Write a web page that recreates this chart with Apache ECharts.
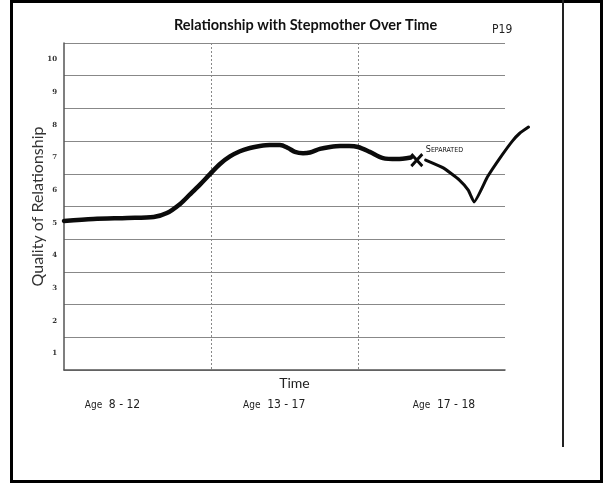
<!DOCTYPE html>
<html>
<head>
<meta charset="utf-8">
<script src="https://cdn.jsdelivr.net/npm/echarts@6/dist/echarts.min.js"></script>
<style>
  html, body { margin: 0; padding: 0; background: #fff; }
  #chart { width: 605px; height: 483px; }
</style>
</head>
<body>
<div id="chart"></div>
<script>
// quality score, one label per band
const qualityLabels = ['1', '2', '3', '4', '5', '6', '7', '8', '9', '10'];

// time periods along the x axis (x runs 0..3, one unit per period)
const periodNames = ['8 - 12', '13 - 17', '17 - 18'];
const periodLabelAt = [0.33, 1.43, 2.585];

// hand drawn curve, [time, quality]
const beforeSeparation = [
  [0.00, 5.06], [0.20, 5.12], [0.43, 5.15], [0.61, 5.18], [0.70, 5.30],
  [0.79, 5.58], [0.857, 5.87], [0.925, 6.17], [0.993, 6.49], [1.061, 6.80],
  [1.129, 7.03], [1.197, 7.19], [1.265, 7.29], [1.333, 7.35], [1.40, 7.38],
  [1.469, 7.38], [1.524, 7.29], [1.571, 7.17], [1.626, 7.13], [1.673, 7.15],
  [1.741, 7.26], [1.81, 7.32], [1.878, 7.35], [1.94, 7.35], [2.00, 7.32],
  [2.08, 7.17], [2.17, 6.98], [2.265, 6.95], [2.36, 7.00]
];
const separationPoint = [[2.40, 6.92]];
const afterSeparation = [
  [2.46, 6.92], [2.58, 6.68], [2.69, 6.31], [2.75, 6.00], [2.79, 5.64],
  [2.88, 6.40], [2.97, 7.01], [3.05, 7.50], [3.10, 7.74], [3.16, 7.93]
];

const chart = echarts.init(document.getElementById('chart'));

// grid 0 carries the visible axes, grid 1 (same scale, wider) carries the
// drawing so the curve can run past the right end of the ruled lines
const xMaxDrawn = 3.25;
const plotLeft = 64, plotRight = 100;
const plotWidth = 605 - plotLeft - plotRight;
const drawnRight = 605 - plotLeft - plotWidth * xMaxDrawn / 3;

chart.setOption({
  backgroundColor: '#fff',
  animation: false,
  title: [
    {
      text: 'Relationship with Stepmother Over Time',
      left: 169,
      top: 13,
      textStyle: { fontFamily: 'Lato', fontWeight: 'bold', fontSize: 14.5, color: '#111' }
    },
    {
      text: 'P19',
      left: 487,
      top: 19,
      textStyle: { fontFamily: 'DejaVu Sans Condensed', fontWeight: 'normal', fontSize: 12, color: '#222' }
    }
  ],
  // scanned page frame
  graphic: [
    {
      type: 'rect',
      shape: { x: 11.5, y: 1.5, width: 590, height: 480 },
      style: { fill: 'none', stroke: '#000', lineWidth: 3 }
    },
    {
      type: 'line',
      shape: { x1: 563, y1: 0, x2: 563, y2: 447 },
      style: { stroke: '#222', lineWidth: 2 }
    }
  ],
  grid: [
    { left: plotLeft, right: plotRight, top: 43, bottom: 113 },
    { left: plotLeft, right: drawnRight, top: 43, bottom: 113 }
  ],
  xAxis: [
    {
      type: 'value',
      gridIndex: 0,
      min: 0,
      max: 3,
      interval: 1,
      name: 'Time',
      nameLocation: 'middle',
      nameGap: 6,
      nameMoveOverlap: false,
      nameTextStyle: { fontFamily: 'Lato', fontSize: 14, color: '#222', padding: [0, 0, 0, 20] },
      axisLine: { show: true, lineStyle: { color: '#555', width: 1.5 } },
      axisTick: { show: false },
      splitLine: {
        show: true,
        showMinLine: false,
        showMaxLine: false,
        lineStyle: { color: '#888', type: [2, 2], width: 1 }
      },
      axisLabel: {
        customValues: periodLabelAt,
        margin: 29,
        formatter: function (v) {
          const i = periodLabelAt.indexOf(v);
          return '{a|Age}  {b|' + periodNames[i] + '}';
        },
        rich: {
          a: { fontFamily: 'DejaVu Sans Condensed', fontSize: 10, color: '#222' },
          b: { fontFamily: 'DejaVu Sans Condensed', fontSize: 12, color: '#222' }
        }
      }
    },
    {
      type: 'value',
      gridIndex: 1,
      min: 0,
      max: xMaxDrawn,
      show: false
    }
  ],
  yAxis: [
    {
      type: 'category',
      gridIndex: 0,
      data: qualityLabels,
      boundaryGap: true,
      name: 'Quality of Relationship',
      nameLocation: 'middle',
      nameGap: 18,
      nameMoveOverlap: false,
      nameTextStyle: { fontFamily: 'Lato', fontSize: 16, color: '#333' },
      axisLine: { show: true, lineStyle: { color: '#555', width: 1.5 } },
      axisTick: { show: false },
      axisLabel: {
        interval: 0,
        margin: 7,
        fontFamily: 'DejaVu Serif',
        fontWeight: 'bold',
        fontSize: 7,
        color: '#333'
      },
      splitLine: { show: true, interval: 0, lineStyle: { color: '#888', width: 1 } }
    },
    {
      type: 'value',
      gridIndex: 1,
      min: 0.5,
      max: 10.5,
      show: false
    }
  ],
  series: [
    {
      name: 'Before separation',
      type: 'line',
      xAxisIndex: 1,
      yAxisIndex: 1,
      data: beforeSeparation,
      showSymbol: false,
      smooth: 0.3,
      lineStyle: { color: '#0b0b0b', width: 4.5, cap: 'round', join: 'round' },
      z: 5
    },
    {
      name: 'Separated',
      type: 'scatter',
      xAxisIndex: 1,
      yAxisIndex: 1,
      data: separationPoint,
      symbol: 'path://M0,0L10,10M10,0L0,10',
      symbolSize: [11, 12],
      itemStyle: { color: 'rgba(0,0,0,0)', borderColor: '#0b0b0b', borderWidth: 3, opacity: 1 },
      label: {
        show: true,
        position: 'right',
        distance: 2,
        offset: [0, -10],
        formatter: '{s|S}{t|EPARATED}',
        rich: {
          s: { fontFamily: 'DejaVu Sans Condensed', fontSize: 9, color: '#111' },
          t: { fontFamily: 'DejaVu Sans Condensed', fontSize: 7, color: '#111' }
        }
      },
      z: 6
    },
    {
      name: 'After separation',
      type: 'line',
      xAxisIndex: 1,
      yAxisIndex: 1,
      data: afterSeparation,
      showSymbol: false,
      smooth: 0.15,
      lineStyle: { color: '#0b0b0b', width: 3, cap: 'round', join: 'round' },
      z: 5
    }
  ]
});
</script>
</body>
</html>
